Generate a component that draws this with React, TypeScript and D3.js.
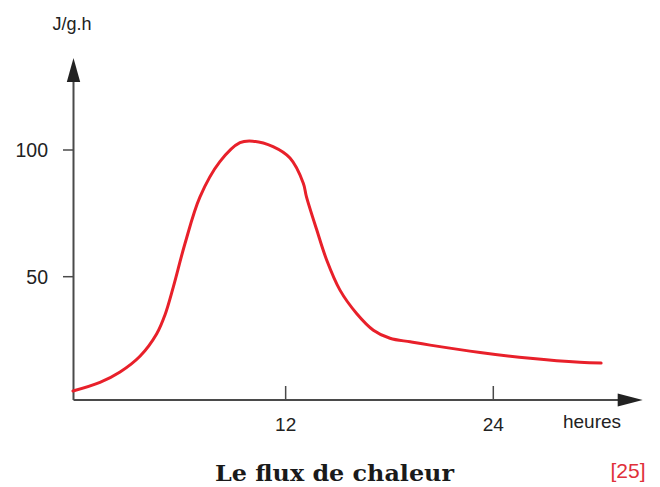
import React from "react";
import * as d3 from "d3";

const hours = [-0.29, 1.27, 2.43, 3.58, 4.55, 5.03, 5.51, 6.18, 7.05, 8.2, 9.36, 10.1, 11.27, 12.25, 13.02, 13.2, 13.8, 14.37, 15.14, 16.1, 17.07, 18.03, 19.2, 20.35, 23.24, 26.13, 29.0, 30.23];
const flux = [4.9, 8.3, 12.4, 18.6, 27.5, 35.0, 46.0, 63.0, 81.5, 95.4, 102.9, 103.5, 101.3, 96.8, 86.9, 81.6, 68.4, 56.6, 44.7, 35.5, 28.9, 25.7, 24.3, 23.0, 20.1, 17.8, 16.2, 15.9];
const xTicks = [12, 24];
const yTicks = [50, 100];
const yLabel = "J/g.h";
const xLabel = "heures";
const title = "Le flux de chaleur";
const refText = "[25]";

export default function App() {
  const W = 660, H = 487;
  const x = d3.scaleLinear().domain([0, 24]).range([78, 493.3]);
  const y = d3.scaleLinear().domain([50, 100]).range([276.7, 150]);
  const axisX = 73.5, axisY = 400;
  const data = hours.map((h, i) => [h, flux[i]] as [number, number]);
  const line = d3.line<[number, number]>().x(d => x(d[0])).y(d => y(d[1])).curve(d3.curveCatmullRom.alpha(0.5));
  const font = "'Liberation Sans', Arial, sans-serif";
  const axisColor = "#4a4a4a";
  return (
    <svg width={W} height={H} style={{ position: "absolute", left: 0, top: 0, background: "#fff" }}>
      <line x1={axisX} y1={axisY} x2={620} y2={axisY} stroke={axisColor} strokeWidth={2} />
      <line x1={axisX} y1={axisY} x2={axisX} y2={80} stroke={axisColor} strokeWidth={2} />
      <path d={`M${axisX},58 L${axisX - 6.7},82 L${axisX + 6.7},82 Z`} fill="#222" />
      <path d={`M642.7,${axisY} L617.7,${axisY - 6.5} L617.7,${axisY + 6.5} Z`} fill="#222" />
      {xTicks.map(t => (
        <g key={"x" + t}>
          <line x1={x(t)} x2={x(t)} y1={axisY} y2={386} stroke={axisColor} strokeWidth={1.5} />
          <text x={x(t)} y={431} textAnchor="middle" fontFamily={font} fontSize={19} fill="#222">{t}</text>
        </g>
      ))}
      {yTicks.map(t => (
        <g key={"y" + t}>
          <line x1={63} x2={axisX} y1={y(t)} y2={y(t)} stroke={axisColor} strokeWidth={1.5} />
          <text x={48} y={y(t) + 7} textAnchor="end" fontFamily={font} fontSize={19.5} fill="#222">{t}</text>
        </g>
      ))}
      <text x={72} y={30} textAnchor="middle" fontFamily={font} fontSize={18} fill="#222">{yLabel}</text>
      <text x={592} y={428} textAnchor="middle" fontFamily={font} fontSize={19} fill="#222">{xLabel}</text>
      <path d={line(data) || ""} fill="none" stroke="#e8202a" strokeWidth={3} strokeLinejoin="round" strokeLinecap="round" />
      <text x={215} y={481} fontFamily="'DejaVu Serif', serif" fontWeight="bold" fontSize={22} textLength={239} lengthAdjust="spacingAndGlyphs" fill="#1a1a1a">{title}</text>
      <text x={628} y={478} textAnchor="middle" fontFamily={font} fontSize={21} fill="#e0303a">{refText}</text>
    </svg>
  );
}
